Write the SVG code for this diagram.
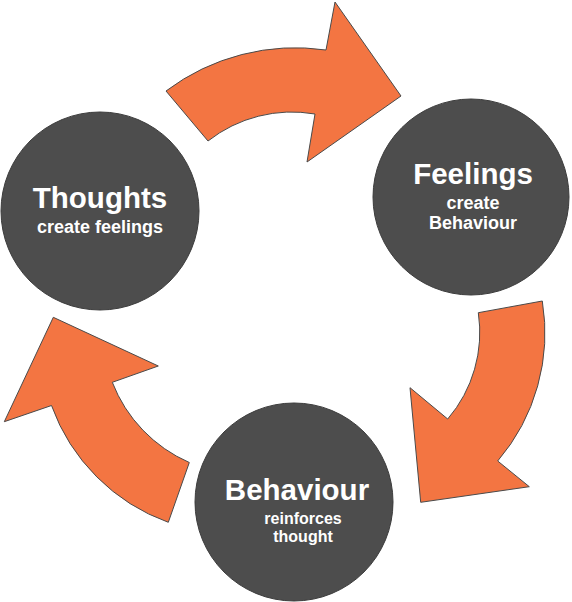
<svg xmlns="http://www.w3.org/2000/svg" width="572" height="602" viewBox="0 0 572 602">
<style>
.arrow{fill:#F37542;stroke:#4a4a4a;stroke-width:1;stroke-linejoin:miter}
.node circle{fill:#4D4D4D;stroke:#3c3c3c;stroke-width:1}
text{font-family:"Liberation Sans",Arial,sans-serif;font-weight:bold;fill:#ffffff;text-anchor:middle}
.t{font-size:29.5px}
.s{font-size:18px}
.s2{font-size:16px}
</style>
<rect width="572" height="602" fill="#ffffff"/>
<g id="connectors">
<path id="arrow-thoughts-feelings" class="arrow" d="M166,91 A215 215 0 0 1 326,50 L335,2 L401,96 L307,162 L315,114 A136 136 0 0 0 208,141 Z"/>
<path id="arrow-feelings-behaviour" class="arrow" d="M542.3,301 A197 197 0 0 1 497.7,461 L529.3,486.7 L420.7,502.3 L410,387.7 L447.7,419 A133 133 0 0 0 478.3,312.7 Z"/>
<path id="arrow-behaviour-thoughts" class="arrow" d="M168.3,522.3 A194 194 0 0 1 51.5,405.5 L4.3,421.7 L53.3,317.3 L158.3,366 L112.3,382.3 A145 145 0 0 0 189.3,462.5 Z"/>
</g>
<g id="thoughts" class="node">
<circle cx="100" cy="211" r="99"/>
<text class="t" x="100" y="208">Thoughts</text>
<text class="s" x="100" y="233">create feelings</text>
</g>
<g id="feelings" class="node">
<circle cx="471" cy="197" r="98"/>
<text class="t" x="473" y="184">Feelings</text>
<text class="s" x="473" y="209">create</text>
<text class="s" x="473" y="229">Behaviour</text>
</g>
<g id="behaviour" class="node">
<circle cx="294" cy="502" r="99"/>
<text class="t" x="297" y="500">Behaviour</text>
<text class="s2" x="303" y="524">reinforces</text>
<text class="s2" x="303" y="542">thought</text>
</g>
</svg>
